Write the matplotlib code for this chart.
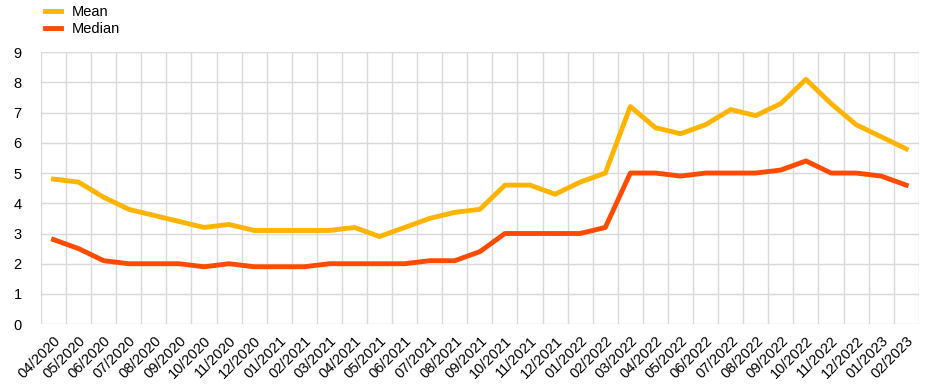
import numpy as np
import matplotlib.pyplot as plt

plt.rcParams['font.family'] = ['Liberation Sans', 'DejaVu Sans']

months = ['04/2020', '05/2020', '06/2020', '07/2020', '08/2020', '09/2020', '10/2020',
          '11/2020', '12/2020', '01/2021', '02/2021', '03/2021', '04/2021', '05/2021',
          '06/2021', '07/2021', '08/2021', '09/2021', '10/2021', '11/2021', '12/2021',
          '01/2022', '02/2022', '03/2022', '04/2022', '05/2022', '06/2022', '07/2022',
          '08/2022', '09/2022', '10/2022', '11/2022', '12/2022', '01/2023', '02/2023']
mean = [4.8, 4.7, 4.2, 3.8, 3.6, 3.4, 3.2, 3.3, 3.1, 3.1, 3.1, 3.1, 3.2, 2.9, 3.2, 3.5,
        3.7, 3.8, 4.6, 4.6, 4.3, 4.7, 5.0, 7.2, 6.5, 6.3, 6.6, 7.1, 6.9, 7.3, 8.1, 7.3,
        6.6, 6.2, 5.8]
median = [2.8, 2.5, 2.1, 2.0, 2.0, 2.0, 1.9, 2.0, 1.9, 1.9, 1.9, 2.0, 2.0, 2.0, 2.0, 2.1,
          2.1, 2.4, 3.0, 3.0, 3.0, 3.0, 3.2, 5.0, 5.0, 4.9, 5.0, 5.0, 5.0, 5.1, 5.4, 5.0,
          5.0, 4.9, 4.6]

x = np.arange(len(months))

fig = plt.figure(figsize=(9.48, 3.92), dpi=100)
ax = fig.add_axes([0.0432, 0.173, 0.926, 0.694])

ax.plot(x, mean, color='#FFB400', lw=3.5, label='Mean', solid_joinstyle='round')
ax.plot(x, median, color='#FF4B00', lw=3.5, label='Median', solid_joinstyle='round')

ax.set_xlim(-0.5, len(months) - 0.5)
ax.set_ylim(0, 9)
ax.set_yticks(range(10))
ax.set_xticks(x)
ax.set_xticklabels(months, rotation=45, ha='right', rotation_mode='anchor', fontsize=10.5)
ax.set_xticks(np.arange(-0.5, len(months), 1), minor=True)
ax.tick_params(axis='both', which='both', length=0, labelsize=10.5)
ax.tick_params(axis='y', pad=14)
ax.tick_params(axis='x', pad=7)
ax.grid(True, axis='y', color='#d9d9d9', lw=1)
ax.grid(True, axis='x', which='minor', color='#d9d9d9', lw=1)
ax.grid(False, axis='x', which='major')
for s in ax.spines.values():
    s.set_visible(False)
ax.set_axisbelow(True)

fig.legend(loc='upper left', bbox_to_anchor=(0.034, 1.02), frameon=False, fontsize=10.5,
           handlelength=1.1, handletextpad=0.7, labelspacing=0.2)

fig.savefig('out.png', dpi=100)
